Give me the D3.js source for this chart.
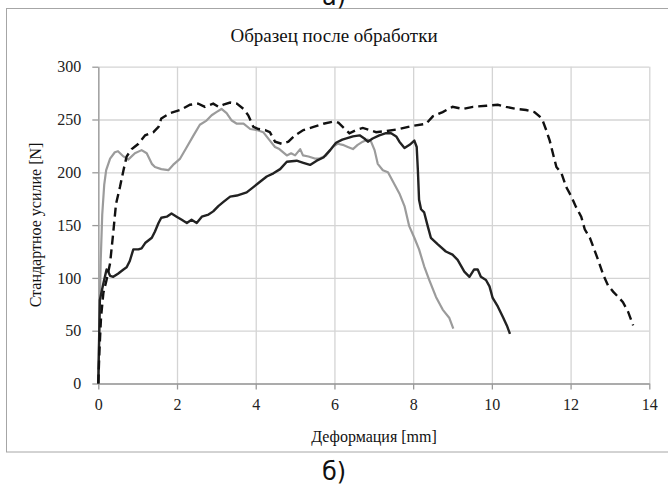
<!DOCTYPE html>
<html>
<head>
<meta charset="utf-8">
<script src="https://cdn.jsdelivr.net/npm/d3@7"></script>
<style>
  body { margin: 0; background: #fff; }
  svg { display: block; font-family: "Liberation Serif", "DejaVu Serif", serif; }
</style>
</head>
<body>
<div id="elements"></div>
<script>
// Axis ticks
var xTicks = [0, 2, 4, 6, 8, 10, 12, 14];
var yTicks = [0, 50, 100, 150, 200, 250, 300];

// Curves: [deformation mm, force N]
var seriesGray = [[0,0],[0.03,60],[0.06,115],[0.1,160],[0.15,188],[0.2,202],[0.3,213],[0.42,219],[0.5,220],[0.64,215],
    [0.76,212],[0.93,218],[1.1,221],[1.23,218],[1.36,208],[1.44,205],[1.6,203],[1.78,202],[1.9,207],[2.08,213],
    [2.25,224],[2.42,235],[2.58,245],[2.75,249],[2.88,254],[3.0,257],[3.13,260],[3.26,256],[3.39,249],[3.52,246],
    [3.69,246],[3.86,241],[4.03,240],[4.19,238],[4.36,230],[4.49,224],[4.6,222],[4.79,216],[4.9,218],[5.0,216],
    [5.13,222],[5.2,216],[5.34,215],[5.5,213],[5.62,213],[5.79,216],[5.96,224],[6.08,227],[6.21,226],[6.34,224],
    [6.47,222],[6.59,226],[6.72,229],[6.85,231],[6.93,229],[7.02,221],[7.1,208],[7.23,202],[7.36,200],[7.49,191],
    [7.65,180],[7.78,168],[7.9,149],[8.03,138],[8.15,127],[8.28,111],[8.41,98],[8.58,82],[8.75,70],[8.92,62],[9.02,52]];

var seriesSolid = [[0,0],[0.02,40],[0.04,79],[0.13,95],[0.21,108],[0.25,106],[0.3,102],[0.38,101],[0.5,104],[0.64,108],
    [0.72,110],[0.8,116],[0.89,127],[1.02,127],[1.1,128],[1.19,133],[1.36,138],[1.44,144],[1.53,152],[1.6,157],
    [1.74,158],[1.86,161],[1.99,158],[2.12,155],[2.25,152],[2.37,155],[2.5,152],[2.63,158],[2.8,160],[2.92,163],
    [3.05,168],[3.18,172],[3.35,177],[3.52,178],[3.77,181],[3.94,186],[4.11,191],[4.28,196],[4.45,199],[4.62,203],
    [4.79,210],[5.04,211],[5.21,209],[5.38,207],[5.55,211],[5.72,214],[5.89,221],[6.04,228],[6.2,231],[6.47,234],
    [6.64,235],[6.76,232],[6.85,229],[6.97,232],[7.14,235],[7.31,237],[7.44,237],[7.57,234],[7.65,229],[7.78,223],
    [7.91,226],[8.03,230],[8.09,224],[8.12,202],[8.15,174],[8.2,165],[8.28,162],[8.37,149],[8.45,138],[8.62,132],
    [8.83,125],[9.0,122],[9.13,117],[9.3,106],[9.43,101],[9.55,108],[9.64,108],[9.72,101],[9.85,98],[9.94,92],
    [10.02,81],[10.15,73],[10.28,63],[10.38,55],[10.46,47]];

var seriesDashed = [[0,0],[0.03,32],[0.07,63],[0.13,86],[0.21,98],[0.3,114],[0.38,143],[0.45,170],[0.55,186],[0.64,202],
    [0.72,215],[0.85,222],[1.02,227],[1.19,235],[1.4,238],[1.53,243],[1.6,251],[1.82,256],[2.08,259],[2.33,264],
    [2.54,265],[2.71,262],[2.92,265],[3.05,262],[3.18,264],[3.35,266],[3.52,265],[3.69,260],[3.81,254],[3.94,243],
    [4.07,241],[4.24,240],[4.36,238],[4.49,229],[4.66,227],[4.83,229],[5.0,235],[5.21,240],[5.47,243],[5.72,246],
    [5.97,248],[6.1,247],[6.21,243],[6.38,237],[6.55,240],[6.72,242],[6.89,240],[7.06,238],[7.31,239],[7.65,241],
    [7.99,244],[8.33,246],[8.5,253],[8.75,257],[9.0,262],[9.26,260],[9.52,262],[9.86,263],[10.15,264],[10.36,262],
    [10.62,260],[10.87,259],[11.08,257],[11.21,253],[11.3,248],[11.38,240],[11.47,230],[11.55,218],[11.64,205],[11.77,199],
    [11.89,186],[12.02,177],[12.14,167],[12.27,158],[12.36,146],[12.49,138],[12.57,130],[12.7,117],[12.83,103],[12.95,93],
    [13.08,87],[13.21,82],[13.33,77],[13.46,68],[13.59,55]];

var width = 668, height = 488;

var svg = d3.select("#elements").append("svg")
    .attr("width", width)
    .attr("height", height);

svg.append("rect")
    .attr("width", width)
    .attr("height", height)
    .attr("fill", "#fff");

// chart area border (runs off the right edge)
svg.append("rect")
    .attr("x", 6.5).attr("y", 8.5)
    .attr("width", 680).attr("height", 443.5)
    .attr("fill", "none")
    .attr("stroke", "#a6a6a6")
    .attr("stroke-width", 1);

var x = d3.scaleLinear().domain([0, 14]).range([98.3, 649.3]);
var y = d3.scaleLinear().domain([0, 300]).range([383.5, 66.7]);

// gridlines
svg.append("g")
    .attr("transform", "translate(0,383.5)")
    .call(d3.axisBottom(x).tickValues(xTicks).tickSize(-(383.5 - 66.7)).tickFormat(""))
    .call(function(g) {
        g.select(".domain").remove();
        g.selectAll("line").attr("stroke", "#d4d4d4").attr("stroke-width", 1.3);
    });

svg.append("g")
    .attr("transform", "translate(98.3,0)")
    .call(d3.axisLeft(y).tickValues(yTicks).tickSize(-(649.3 - 98.3)).tickFormat(""))
    .call(function(g) {
        g.select(".domain").remove();
        g.selectAll("line").attr("stroke", "#d4d4d4").attr("stroke-width", 1.3);
    });

// axes with outside ticks
var xAxis = svg.append("g")
    .attr("transform", "translate(0,383.5)")
    .call(d3.axisBottom(x).tickValues(xTicks).tickSize(6).tickSizeOuter(0).tickPadding(9));

var yAxis = svg.append("g")
    .attr("transform", "translate(98.3,0)")
    .call(d3.axisLeft(y).tickValues(yTicks).tickSize(6).tickSizeOuter(0).tickPadding(11));

[xAxis, yAxis].forEach(function(a) {
    a.select(".domain").attr("stroke", "#9a9a9a").attr("stroke-width", 1.3);
    a.selectAll(".tick line").attr("stroke", "#9a9a9a").attr("stroke-width", 1.3);
    a.selectAll(".tick text")
        .attr("fill", "#222")
        .style("font-family", "'Liberation Serif', serif")
        .style("font-size", "16px");
});

// curves
var line = d3.line()
    .x(function(d) { return x(d[0]); })
    .y(function(d) { return y(d[1]); });

svg.append("path")
    .datum(seriesGray)
    .attr("d", line)
    .attr("fill", "none")
    .attr("stroke", "#9b9b9b")
    .attr("stroke-width", 2.2)
    .attr("stroke-linejoin", "round");

svg.append("path")
    .datum(seriesSolid)
    .attr("d", line)
    .attr("fill", "none")
    .attr("stroke", "#222")
    .attr("stroke-width", 2.4)
    .attr("stroke-linejoin", "round");

svg.append("path")
    .datum(seriesDashed)
    .attr("d", line)
    .attr("fill", "none")
    .attr("stroke", "#111")
    .attr("stroke-width", 2.4)
    .attr("stroke-dasharray", "9,5");

// texts
svg.append("text")
    .attr("x", 334).attr("y", 42)
    .attr("text-anchor", "middle")
    .attr("fill", "#111")
    .style("font-size", "19px")
    .text("Образец после обработки");

svg.append("text")
    .attr("x", 374).attr("y", 442)
    .attr("text-anchor", "middle")
    .attr("fill", "#111")
    .style("font-size", "16px")
    .text("Деформация [mm]");

svg.append("text")
    .attr("transform", "translate(41,225) rotate(-90)")
    .attr("text-anchor", "middle")
    .attr("fill", "#111")
    .style("font-size", "16px")
    .text("Стандартное усилие [N]");

svg.append("text")
    .attr("x", 334).attr("y", 480)
    .attr("text-anchor", "middle")
    .attr("fill", "#111")
    .style("font-family", "'DejaVu Sans', sans-serif")
    .style("font-size", "24px")
    .text("б)");

svg.append("text")
    .attr("x", 334).attr("y", 5)
    .attr("text-anchor", "middle")
    .attr("fill", "#111")
    .style("font-family", "'DejaVu Sans', sans-serif")
    .style("font-size", "24px")
    .text("а)");
</script>
</body>
</html>
